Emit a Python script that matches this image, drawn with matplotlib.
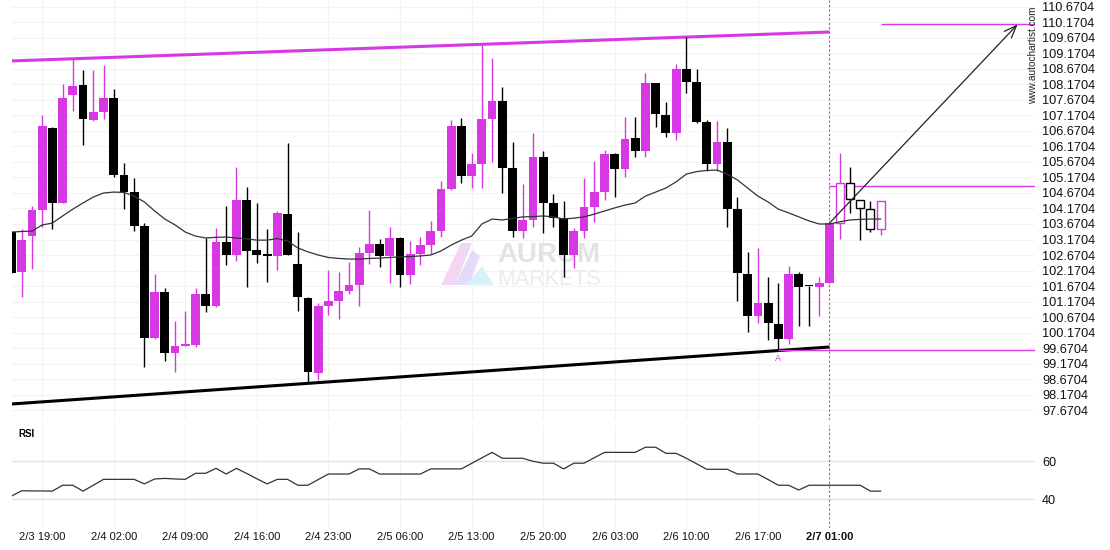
import matplotlib
matplotlib.use("Agg")
import matplotlib.pyplot as plt
from matplotlib.patches import Polygon
import numpy as np

plt.rcParams['font.family'] = ['Liberation Sans', 'DejaVu Sans']

PINK = "#d838e4"
BLACK = "#000000"

# OHLC per hourly bar (bar index = position)
opens = [103.41, 102.13, 103.28, 104.12, 106.78, 104.36, 107.83, 108.15, 107.04, 107.29,
         107.74, 105.25, 104.69, 103.61, 100.00, 101.48, 99.52, 99.75, 99.78, 101.41,
         101.04, 103.09, 102.68, 104.44, 102.83, 102.67, 102.65, 103.99, 102.38, 101.29,
         98.87, 101.03, 101.19, 101.51, 101.70, 102.74, 103.03, 102.65, 103.22, 102.03,
         102.70, 102.99, 103.44, 104.80, 106.83, 105.23, 105.61, 107.06, 107.64, 105.49,
         103.45, 103.80, 105.84, 104.35, 103.87, 102.67, 103.44, 104.23, 104.70, 105.93,
         105.44, 106.45, 106.04, 108.22, 107.19, 106.62, 108.67, 108.26, 106.96, 105.61,
         106.33, 104.15, 102.06, 100.71, 101.12, 100.44, 99.96, 102.06, 101.67, 101.65,
         101.78, 103.70, 104.99, 104.44, 104.15, 103.51]
highs = [103.45, 103.51, 104.25, 107.19, 106.80, 108.18, 108.99, 108.64, 108.64, 108.80,
         108.03, 105.64, 105.15, 103.70, 102.06, 101.62, 100.54, 100.86, 101.62, 103.22,
         103.54, 104.25, 105.51, 104.86, 104.35, 103.51, 104.09, 106.28, 103.41, 101.33,
         101.13, 102.19, 102.12, 102.44, 102.94, 104.12, 103.19, 103.57, 103.26, 103.12,
         103.25, 103.77, 105.07, 107.03, 107.09, 105.97, 109.44, 109.03, 108.10, 106.32,
         104.96, 106.61, 106.03, 104.64, 104.41, 103.54, 105.15, 105.70, 106.06, 105.96,
         107.12, 107.12, 108.54, 108.22, 107.61, 108.83, 109.70, 108.67, 107.03, 106.99,
         106.77, 104.55, 102.77, 102.90, 101.96, 101.77, 102.33, 102.13, 101.67, 101.97,
         103.69, 105.96, 105.51, 104.44, 104.41, 104.41]
lows = [102.05, 101.32, 102.22, 103.57, 103.51, 104.35, 107.33, 106.22, 107.00, 107.06,
        105.20, 104.15, 103.44, 99.06, 99.96, 99.25, 98.90, 99.74, 99.70, 100.84,
        101.00, 102.36, 102.49, 101.65, 102.41, 101.80, 102.19, 102.67, 100.86, 98.55,
        98.64, 100.74, 100.61, 101.41, 101.04, 102.38, 102.29, 101.77, 101.65, 101.74,
        102.35, 102.70, 103.25, 104.77, 104.99, 104.83, 104.83, 105.68, 104.67, 103.25,
        103.22, 103.58, 103.38, 103.58, 101.96, 102.25, 103.22, 103.74, 104.44, 104.54,
        105.19, 105.83, 105.84, 106.80, 106.48, 106.38, 107.91, 106.93, 105.39, 105.39,
        103.58, 101.20, 100.18, 100.47, 99.93, 99.64, 99.80, 100.39, 100.38, 100.70,
        101.78, 103.19, 104.03, 103.15, 103.41, 103.32]
closes = [102.09, 103.15, 104.12, 106.83, 104.36, 107.74, 108.13, 107.06, 107.28, 107.74,
          105.25, 104.69, 103.62, 100.00, 101.48, 99.52, 99.74, 99.77, 101.41, 101.04,
          103.09, 102.68, 104.44, 102.81, 102.68, 102.65, 104.01, 102.68, 101.32, 98.91,
          101.03, 101.19, 101.51, 101.70, 102.74, 103.03, 102.65, 103.22, 102.03, 102.70,
          102.99, 103.44, 104.80, 106.83, 105.23, 105.61, 107.06, 107.64, 105.49, 103.45,
          103.80, 105.84, 104.35, 103.87, 102.67, 103.44, 104.23, 104.70, 105.93, 105.44,
          106.41, 106.04, 108.22, 107.22, 106.62, 108.67, 108.26, 106.96, 105.61, 106.33,
          104.15, 102.10, 100.71, 101.12, 100.47, 99.96, 102.06, 101.65, 101.66, 101.76,
          103.69, 104.99, 104.48, 104.19, 103.51, 104.41]

# moving average overlay
ma = [103.41, 103.43, 103.44, 103.64, 103.70, 103.93, 104.15, 104.35, 104.54, 104.67,
      104.70, 104.69, 104.57, 104.38, 104.09, 103.83, 103.64, 103.41, 103.28, 103.22,
      103.24, 103.25, 103.22, 103.19, 103.15, 103.15, 103.20, 103.12, 102.90, 102.77,
      102.67, 102.59, 102.56, 102.54, 102.54, 102.56, 102.57, 102.59, 102.61, 102.62,
      102.64, 102.67, 102.80, 102.99, 103.15, 103.28, 103.67, 103.83, 103.80, 103.85,
      103.90, 103.91, 103.93, 103.90, 103.83, 103.86, 103.90, 103.99, 104.09, 104.19,
      104.28, 104.35, 104.57, 104.70, 104.83, 105.03, 105.28, 105.36, 105.40, 105.41,
      105.28, 105.09, 104.83, 104.57, 104.38, 104.15, 104.03, 103.90, 103.77, 103.67,
      103.67, 103.74, 103.80, 103.82, 103.83, 103.83]

rsi = [41.7, 44.5, 44.4, 44.4, 44.3, 47.4, 47.4, 44.3, 47.4, 50.5,
       50.5, 50.5, 50.5, 48.1, 50.7, 51.0, 50.7, 50.5, 53.7, 53.7,
       56.3, 53.3, 56.3, 53.6, 50.8, 48.1, 50.5, 50.5, 47.4, 47.4,
       50.4, 53.3, 53.3, 53.3, 56.0, 56.0, 53.3, 53.3, 53.3, 53.3,
       53.3, 56.0, 56.0, 56.0, 56.0, 58.9, 61.8, 64.7, 61.6, 61.6,
       61.6, 60.0, 59.0, 59.0, 56.0, 59.0, 59.0, 61.9, 64.7, 64.7,
       64.7, 64.7, 67.4, 67.4, 64.2, 64.2, 61.6, 58.7, 55.8, 55.8,
       55.8, 53.3, 53.3, 53.3, 50.4, 47.4, 47.4, 44.9, 47.4, 47.4,
       47.4, 47.4, 47.4, 47.4, 44.3, 44.3]

time_labels = ["2/3 19:00", "2/4 02:00", "2/4 09:00", "2/4 16:00", "2/4 23:00",
               "2/5 06:00", "2/5 13:00", "2/5 20:00", "2/6 03:00", "2/6 10:00",
               "2/6 17:00", "2/7 01:00"]
label_bars = [3, 10, 17, 24, 31, 38, 45, 52, 59, 66, 73, 80]

# pattern (channel) and forecast
upper_line = ([0, 80], [108.93, 109.864])
lower_line = ([0, 80], [97.864, 99.703])
pattern_end = 80            # bars after this are drawn hollow
level_a = 99.61             # point A low
level_a_bar = 75
breakout_level = 104.90
target_level = 110.11
arrow_start = (80, 103.70)
arrow_end = (98.4, 110.11)

price_ticks = np.arange(97.6704, 110.68, 0.5)

fig = plt.figure(figsize=(11.1, 5.5), dpi=100)
W, H = 1110, 550
x0, x1 = 12, 1035
ax = fig.add_axes([x0 / W, (H - 420) / H, (x1 - x0) / W, 420 / H])
axr = fig.add_axes([x0 / W, (H - 528) / H, (x1 - x0) / W, 103 / H])

xlim = (0.05, 100.1)
for a in (ax, axr):
    a.set_xlim(*xlim)
    for s in a.spines.values():
        s.set_visible(False)
    a.tick_params(length=0)
    for b in label_bars:
        a.axvline(b, color="#f2f2f2", lw=0.8, zorder=0)

ax.set_ylim(97.348, 110.896)
for p in price_ticks:
    ax.axhline(p, color="#f3f3f3", lw=0.8, zorder=0)

# watermark
to_ax = lambda px, py: ((px - x0) / (x1 - x0), 1 - py / 420)
ax.text(*to_ax(497, 262), "AURUM", transform=ax.transAxes, fontsize=20, fontweight="bold",
        color="#e3e3e3", zorder=0.5)
ax.text(*to_ax(497, 285), "MARKETS", transform=ax.transAxes, fontsize=15.5,
        color="#ebebeb", zorder=0.5)
ax.add_patch(Polygon([to_ax(441, 285), to_ax(455, 285), to_ax(472, 243), to_ax(461, 243)],
                     closed=True, transform=ax.transAxes, facecolor="#f3d6f2", edgecolor="none", zorder=0.5))
ax.add_patch(Polygon([to_ax(455, 285), to_ax(469, 285), to_ax(480, 256), to_ax(472, 250)],
                     closed=True, transform=ax.transAxes, facecolor="#e3dcf7", edgecolor="none", zorder=0.5))
ax.add_patch(Polygon([to_ax(466, 285), to_ax(494, 285), to_ax(482, 266)],
                     closed=True, transform=ax.transAxes, facecolor="#d7f0fa", edgecolor="none", zorder=0.5))

# channel lines
ax.plot(*upper_line, color=PINK, lw=2.2, solid_capstyle="butt", zorder=3)
ax.plot(*lower_line, color=BLACK, lw=2.2, solid_capstyle="butt", zorder=3)

# candles
x = np.arange(len(opens))
for i in x:
    o, h, l, c = opens[i], highs[i], lows[i], closes[i]
    col = PINK if c >= o else BLACK
    bottom = min(o, c)
    height = max(abs(c - o), 0.04)
    if i <= pattern_end:
        ax.vlines(i, l, h, color=col, lw=1.0, zorder=4)
        ax.bar(i, height, bottom=bottom, width=0.86, color=col, edgecolor="none", zorder=5)
    else:
        ax.vlines(i, l, bottom, color=col, lw=1.0, zorder=4)
        ax.vlines(i, bottom + height, h, color=col, lw=1.0, zorder=4)
        ax.bar(i, height, bottom=bottom, width=0.78, facecolor="white", edgecolor=col,
               lw=1.0, zorder=5)

ax.plot(x, ma, color="#333333", lw=0.9, zorder=6)

# levels, forecast
ax.hlines(level_a, level_a_bar, xlim[1], color=PINK, lw=1.0, zorder=3)
ax.hlines(breakout_level, pattern_end, xlim[1], color=PINK, lw=1.0, zorder=3)
ax.hlines(target_level, 85, xlim[1], color=PINK, lw=1.0, zorder=3)
ax.text(level_a_bar, level_a - 0.12, "A", color=PINK, fontsize=6.5, ha="center", va="top")
ax.annotate("", xy=arrow_end, xytext=arrow_start,
            arrowprops=dict(arrowstyle="->,head_length=0.9,head_width=0.35",
                            color="#222222", lw=0.9, shrinkA=0, shrinkB=0), zorder=7)
ax.axvline(pattern_end, color=PINK, lw=0.8, ls=(0, (2, 2)), zorder=2)
axr.axvline(pattern_end, color=PINK, lw=0.8, ls=(0, (2, 2)), zorder=2)

ax.yaxis.tick_right()
ax.set_yticks(price_ticks)
ax.set_yticklabels([f"{p:.4f}" for p in price_ticks], fontsize=9.2, color="#111111")
ax.tick_params(axis="y", pad=5)
ax.set_xticks([])

fig.text(1033 / W, 1 - 55 / H, "www.autochartist.com", rotation=90, fontsize=7.2,
         color="#222222", ha="center", va="center")

# RSI panel
axr.set_ylim(24.9, 79.1)
axr.axhline(60, color="#e2e2e2", lw=1.0, zorder=0)
axr.axhline(40, color="#e2e2e2", lw=1.0, zorder=0)
axr.plot(x, rsi, color="#333333", lw=0.9, zorder=3)
axr.yaxis.tick_right()
axr.set_yticks([40, 60])
axr.set_yticklabels(["40", "60"], fontsize=9.2, color="#111111")
axr.tick_params(axis="y", pad=5)
axr.text(0.006, 0.88, "RSI", transform=axr.transAxes, fontsize=7, fontweight="bold")
axr.set_xticks(label_bars)
axr.set_xticklabels(time_labels, fontsize=8, color="#111111")
axr.tick_params(axis="x", pad=3)
axr.get_xticklabels()[-1].set_fontweight("bold")

fig.savefig("out.png", dpi=100)
